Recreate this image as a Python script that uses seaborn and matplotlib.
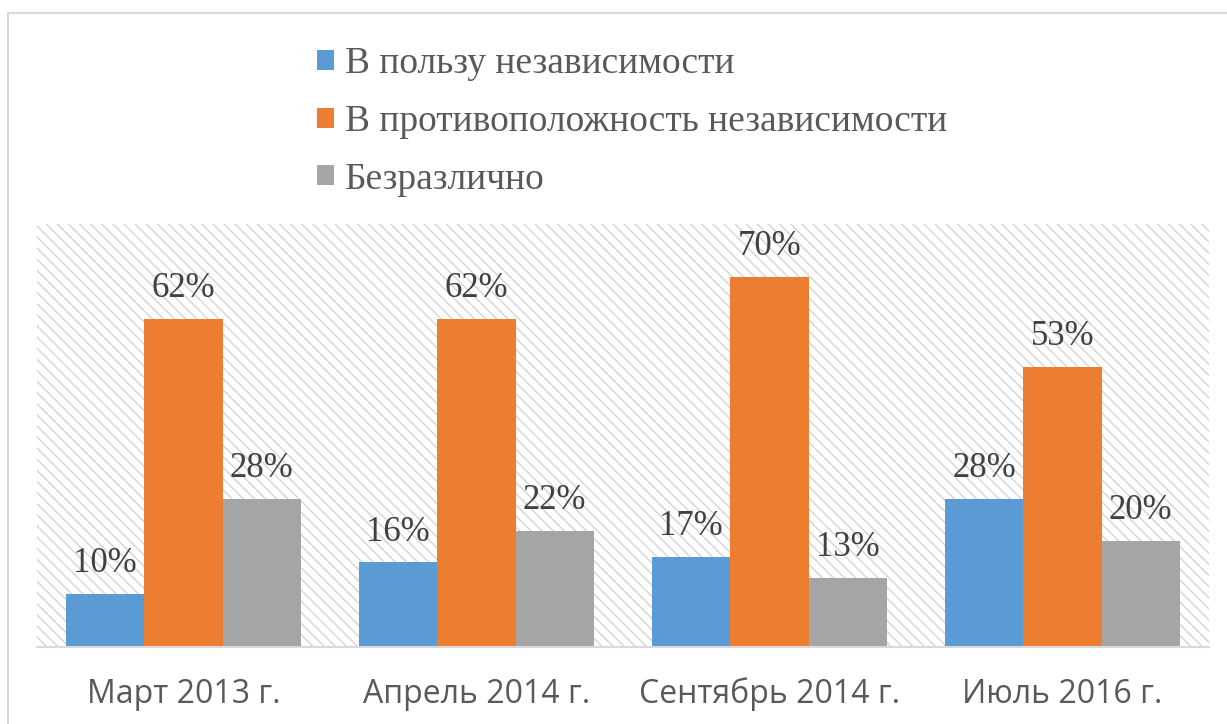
import matplotlib
matplotlib.use("Agg")
import matplotlib.pyplot as plt
import seaborn as sns
import pandas as pd
from matplotlib.patches import Rectangle
from matplotlib.lines import Line2D

categories = ["Март 2013 г.", "Апрель 2014 г.", "Сентябрь 2014 г.", "Июль 2016 г."]
series_names = ["В пользу независимости", "В противоположность независимости", "Безразлично"]
pro = [10, 16, 17, 28]
contra = [62, 62, 70, 53]
neutral = [28, 22, 13, 20]
colors = ["#5B9BD5", "#ED7D31", "#A5A5A5"]

rows = []
for name, vals in zip(series_names, [pro, contra, neutral]):
    for c, v in zip(categories, vals):
        rows.append({"cat": c, "series": name, "value": v})
df = pd.DataFrame(rows)

sns.set_theme(style="white")
plt.rcParams["hatch.linewidth"] = 1.0
plt.rcParams["hatch.color"] = "#d4d4d4"

fig = plt.figure(figsize=(12.27, 7.24), dpi=100)
ax = fig.add_axes([37/1227, 1 - 647/724, (1209-37)/1227, (647-224)/724])

# hatched plot background
bg = Rectangle((0, 0), 1, 1, transform=ax.transAxes, facecolor="white",
               edgecolor="#d4d4d4", hatch="\\\\\\", linewidth=0, zorder=0)
ax.add_patch(bg)

sns.barplot(data=df, x="cat", y="value", hue="series", palette=colors,
            order=categories, hue_order=series_names, width=0.8,
            saturation=1, ax=ax, zorder=2, legend=False, linewidth=0)

for cont in ax.containers:
    labels = ax.bar_label(cont, fmt="%d%%", padding=10, fontsize=25,
                          color="#404040")
    for t in labels:
        t.set_fontfamily("Liberation Serif")

ax.set_ylim(0, 80)
ax.set_xlim(-0.5, 3.5)
ax.set_xlabel("")
ax.set_ylabel("")
ax.set_yticks([])
for s in ["top", "right", "left"]:
    ax.spines[s].set_visible(False)
ax.spines["bottom"].set_color("#d9d9d9")
ax.spines["bottom"].set_linewidth(1.5)
ax.tick_params(axis="x", length=0, pad=22)
for lbl in ax.get_xticklabels():
    lbl.set_fontsize(23)
    lbl.set_fontfamily("Open Sans")
    lbl.set_color("#595959")

handles = [Rectangle((0, 0), 1, 1, facecolor=c, edgecolor="none") for c in colors]
leg = fig.legend(handles, series_names, loc="upper left",
                 bbox_to_anchor=(283/1227, 1 - 13/724), frameon=False,
                 fontsize=27,
                 handlelength=0.45, handleheight=0.45, handletextpad=0.3,
                 labelspacing=0.62)
for t in leg.get_texts():
    t.set_color("#595959")
    t.set_fontfamily("Liberation Serif")

# chart-area border (top and left visible)
fig.add_artist(Line2D([8/1227, 1], [1 - 13/724, 1 - 13/724], transform=fig.transFigure,
                      color="#d9d9d9", linewidth=1.5))
fig.add_artist(Line2D([8/1227, 8/1227], [0, 1 - 13/724], transform=fig.transFigure,
                      color="#d9d9d9", linewidth=1.5))

fig.savefig("out.png", dpi=100)
